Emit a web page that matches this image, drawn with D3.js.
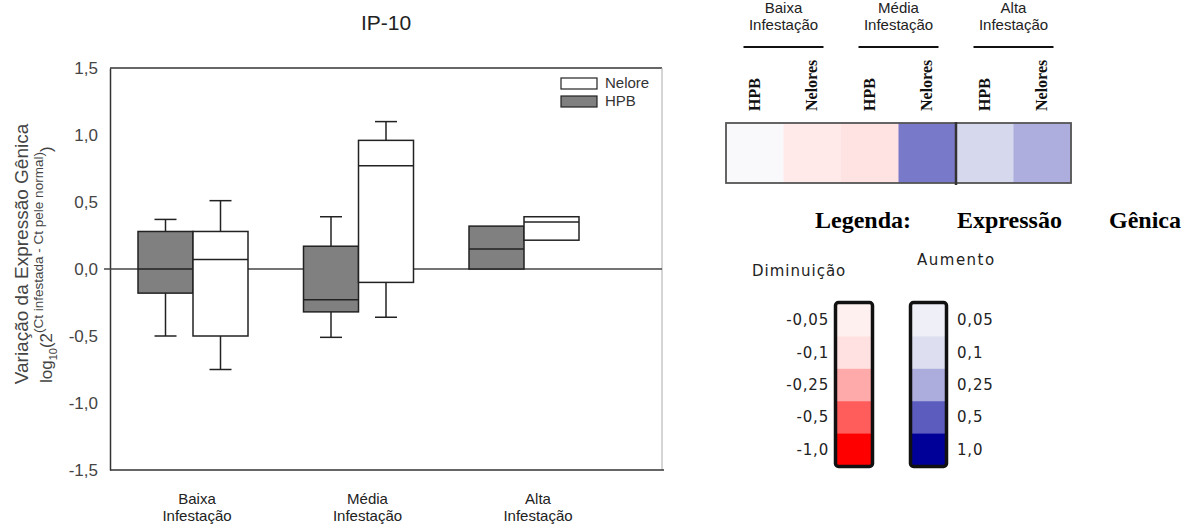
<!DOCTYPE html>
<html><head><meta charset="utf-8">
<script src="https://cdn.jsdelivr.net/npm/d3@7"></script>
<style>
html,body{margin:0;padding:0;background:#fff;}
svg{display:block;}
</style></head>
<body>
<svg id="c" width="1192" height="529"></svg>
<script>
// ---------- DATA ----------
const groupsLine1 = ["Baixa", "Média", "Alta"];
const groupsLine2 = ["Infestação", "Infestação", "Infestação"];
const seriesNames = ["Nelore", "HPB"];
// HPB box stats
const hpbMin    = [-0.50, -0.51, null];
const hpbQ1     = [-0.18, -0.32, 0.00];
const hpbMedian = [ 0.00, -0.23, 0.15];
const hpbQ3     = [ 0.28,  0.17, 0.32];
const hpbMax    = [ 0.37,  0.39, null];
// Nelore box stats
const nelMin    = [-0.75, -0.36, null];
const nelQ1     = [-0.50, -0.10, 0.215];
const nelMedian = [ 0.07,  0.77, 0.35];
const nelQ3     = [ 0.28,  0.96, 0.39];
const nelMax    = [ 0.51,  1.10, null];
const yTicks = [1.5, 1.0, 0.5, 0.0, -0.5, -1.0, -1.5];

// heatmap
const heatCols   = ["HPB", "Nelores", "HPB", "Nelores", "HPB", "Nelores"];
const heatGroup  = [0, 0, 1, 1, 2, 2];
const heatValues = [0.02, -0.075, -0.095, 0.41, 0.12, 0.245];
// colour legend
const redLabels  = ["-0,05", "-0,1", "-0,25", "-0,5", "-1,0"];
const redValues  = [-0.05, -0.1, -0.25, -0.5, -1.0];
const blueLabels = ["0,05", "0,1", "0,25", "0,5", "1,0"];
const blueValues = [0.05, 0.1, 0.25, 0.5, 1.0];

// ---------- SETUP ----------
const svg = d3.select("#c");
const sans = "'Liberation Sans', Arial, sans-serif";
const serif = "'Liberation Serif', 'Times New Roman', serif";

const plot = {left: 110, right: 662, top: 68, bottom: 470};
const y = d3.scaleLinear().domain([-1.5, 1.5]).range([plot.bottom, plot.top]);
const x = d3.scaleLinear().domain([0, 2]).range([193, 524]);
const xLab = d3.scaleLinear().domain([0, 2]).range([197, 538]);
const boxW = 55, capW = 22;

// title
svg.append("text").attr("x", (plot.left + plot.right) / 2).attr("y", 30)
  .attr("text-anchor", "middle").attr("font-family", sans).attr("font-size", 21)
  .attr("fill", "#222").text("IP-10");

// frame
svg.append("line").attr("x1", plot.left).attr("x2", plot.right).attr("y1", plot.top).attr("y2", plot.top)
  .attr("stroke", "#333").attr("stroke-width", 1.5);
svg.append("line").attr("x1", plot.right).attr("x2", plot.right).attr("y1", plot.top).attr("y2", plot.bottom)
  .attr("stroke", "#aaa").attr("stroke-width", 1);
svg.append("line").attr("x1", plot.left).attr("x2", plot.right + 2).attr("y1", plot.bottom).attr("y2", plot.bottom)
  .attr("stroke", "#333").attr("stroke-width", 1.5);

// y axis
const yAxis = d3.axisLeft(y).tickValues(yTicks).tickSize(0).tickPadding(12)
  .tickFormat(d => d3.format(".1f")(d).replace(".", ",").replace("−", "-"));
const gy = svg.append("g").attr("transform", `translate(${plot.left},0)`).call(yAxis);
gy.select(".domain").attr("stroke", "#333").attr("stroke-width", 1.5);
gy.selectAll("text").attr("font-family", sans).attr("font-size", 17).attr("fill", "#444");

// zero line
svg.append("line").attr("x1", plot.left - 6).attr("x2", plot.right).attr("y1", y(0)).attr("y2", y(0))
  .attr("stroke", "#444").attr("stroke-width", 1.5);

// y labels
svg.append("text").attr("transform", `translate(28,${(plot.top + plot.bottom) / 2 - 15}) rotate(-90)`)
  .attr("text-anchor", "middle").attr("font-family", sans).attr("font-size", 19).attr("fill", "#444")
  .text("Variação da Expressão Gênica");
const l2 = svg.append("text").attr("transform", `translate(52,383) rotate(-90)`)
  .attr("font-family", sans).attr("font-size", 17).attr("fill", "#444");
l2.append("tspan").text("log");
l2.append("tspan").attr("font-size", 11).attr("dy", 5).text("10");
l2.append("tspan").attr("dy", -5).text("(2");
l2.append("tspan").attr("font-size", 13.5).attr("dy", -9).text("(Ct infestada - Ct pele normal");
l2.append("tspan").attr("font-size", 13.5).text(")");
l2.append("tspan").attr("dy", 9).text(")");

// boxes
function drawBoxes(mins, q1, med, q3, maxs, offset, fill) {
  const idx = d3.range(q1.length);
  const g = svg.append("g");
  idx.forEach(i => {
    const cx = x(i) + offset * boxW / 2;
    const x0 = cx - boxW / 2;
    if (maxs[i] != null) {
      g.append("line").attr("x1", cx).attr("x2", cx).attr("y1", y(q3[i])).attr("y2", y(maxs[i])).attr("stroke", "#222").attr("stroke-width", 1.5);
      g.append("line").attr("x1", cx - capW / 2).attr("x2", cx + capW / 2).attr("y1", y(maxs[i])).attr("y2", y(maxs[i])).attr("stroke", "#222").attr("stroke-width", 1.5);
    }
    if (mins[i] != null) {
      g.append("line").attr("x1", cx).attr("x2", cx).attr("y1", y(q1[i])).attr("y2", y(mins[i])).attr("stroke", "#222").attr("stroke-width", 1.5);
      g.append("line").attr("x1", cx - capW / 2).attr("x2", cx + capW / 2).attr("y1", y(mins[i])).attr("y2", y(mins[i])).attr("stroke", "#222").attr("stroke-width", 1.5);
    }
    g.append("rect").attr("x", x0).attr("width", boxW).attr("y", y(q3[i])).attr("height", y(q1[i]) - y(q3[i]))
      .attr("fill", fill).attr("stroke", "#222").attr("stroke-width", 1.5);
    g.append("line").attr("x1", x0).attr("x2", x0 + boxW).attr("y1", y(med[i])).attr("y2", y(med[i]))
      .attr("stroke", "#222").attr("stroke-width", 1.5);
  });
}
drawBoxes(hpbMin, hpbQ1, hpbMedian, hpbQ3, hpbMax, -1, "#808080");
drawBoxes(nelMin, nelQ1, nelMedian, nelQ3, nelMax, 1, "#ffffff");

// x labels
groupsLine1.forEach((t, i) => {
  const tx = svg.append("text").attr("x", xLab(i)).attr("y", 504).attr("text-anchor", "middle")
    .attr("font-family", sans).attr("font-size", 15).attr("fill", "#222");
  tx.append("tspan").attr("x", xLab(i)).text(t);
  tx.append("tspan").attr("x", xLab(i)).attr("dy", 17).text(groupsLine2[i]);
});

// legend
const legFills = {"Nelore": "#ffffff", "HPB": "#808080"};
seriesNames.forEach((s, i) => {
  svg.append("rect").attr("x", 561).attr("y", 78 + i * 18).attr("width", 36).attr("height", 11)
    .attr("fill", legFills[s]).attr("stroke", "#222").attr("stroke-width", 1.2);
  svg.append("text").attr("x", 605).attr("y", 88 + i * 18).attr("font-family", sans).attr("font-size", 15)
    .attr("fill", "#333").text(s);
});

// ---------- HEATMAP ----------
const colorDomain = [-1, -0.5, -0.25, -0.1, -0.05, 0, 0.05, 0.1, 0.25, 0.5, 1];
const colorRange = ["#ff0000", "#ff5c5c", "#ffaaaa", "#ffe1e1", "#fff0f0", "#ffffff",
                    "#efeff8", "#dddff1", "#acacdd", "#5c5cbe", "#000099"];
const color = d3.scaleLinear().domain(colorDomain).range(colorRange).interpolate(d3.interpolateRgb);

const hx = d3.scaleBand().domain(d3.range(heatCols.length)).range([726, 1071]);
const hy0 = 123, hh = 60;
svg.append("g").selectAll("rect").data(heatValues).join("rect")
  .attr("x", (d, i) => hx(i)).attr("width", hx.bandwidth() + 0.5)
  .attr("y", hy0).attr("height", hh).attr("fill", d => color(d));
svg.append("rect").attr("x", 726).attr("y", hy0).attr("width", 345).attr("height", hh)
  .attr("fill", "none").attr("stroke", "#555").attr("stroke-width", 1.8);
svg.append("line").attr("x1", hx(4)).attr("x2", hx(4)).attr("y1", hy0 - 1).attr("y2", hy0 + hh + 2)
  .attr("stroke", "#333").attr("stroke-width", 2.5);

// column labels
heatCols.forEach((c, i) => {
  const cx = hx(i) + hx.bandwidth() / 2 + 5;
  svg.append("text").attr("transform", `translate(${cx},111) rotate(-90)`)
    .attr("font-family", serif).attr("font-weight", "bold").attr("font-size", 16).attr("fill", "#111").text(c);
});
// group lines & labels
d3.range(3).forEach(g => {
  const cols = d3.range(heatCols.length).filter(i => heatGroup[i] === g);
  const gx = (hx(cols[0]) + hx(cols[cols.length - 1]) + hx.bandwidth()) / 2;
  svg.append("line").attr("x1", gx - 40).attr("x2", gx + 40).attr("y1", 47).attr("y2", 47)
    .attr("stroke", "#111").attr("stroke-width", 2);
  const t = svg.append("text").attr("text-anchor", "middle").attr("font-family", sans)
    .attr("font-size", 15).attr("fill", "#222");
  t.append("tspan").attr("x", gx).attr("y", 13).text(groupsLine1[g]);
  t.append("tspan").attr("x", gx).attr("y", 30).text(groupsLine2[g]);
});

// ---------- COLOUR LEGEND ----------
svg.append("text").attr("x", 815).attr("y", 228).attr("font-family", serif).attr("font-weight", "bold")
  .attr("font-size", 24).attr("fill", "#000").text("Legenda:");
svg.append("text").attr("x", 957).attr("y", 228).attr("font-family", serif).attr("font-weight", "bold")
  .attr("font-size", 24).attr("fill", "#000").text("Expressão");
svg.append("text").attr("x", 1109).attr("y", 228).attr("font-family", serif).attr("font-weight", "bold")
  .attr("font-size", 24).attr("fill", "#000").text("Gênica");

const lfont = "'DejaVu Sans', Verdana, sans-serif";
svg.append("text").attr("x", 752).attr("y", 276).attr("font-family", lfont).attr("font-size", 15)
  .attr("letter-spacing", 1).attr("fill", "#222").text("Diminuição");
svg.append("text").attr("x", 917).attr("y", 265).attr("font-family", lfont).attr("font-size", 15)
  .attr("letter-spacing", 1.5).attr("fill", "#222").text("Aumento");

const ly = d3.scaleBand().domain(d3.range(5)).range([304, 466]);
function colorBar(x0, w, values, labels, side) {
  const g = svg.append("g");
  g.selectAll("rect.c").data(values).join("rect").attr("class", "c")
    .attr("x", x0).attr("width", w).attr("y", (d, i) => ly(i)).attr("height", ly.bandwidth() + 0.5)
    .attr("fill", d => color(d));
  g.append("rect").attr("x", x0 - 1.5).attr("y", 302.5).attr("width", w + 3).attr("height", 164)
    .attr("rx", 3).attr("fill", "none").attr("stroke", "#111").attr("stroke-width", 3.5);
  g.selectAll("text").data(labels).join("text")
    .attr("x", side < 0 ? x0 - 8 : x0 + w + 12)
    .attr("y", (d, i) => ly(i) + ly.bandwidth() / 2 + 5)
    .attr("text-anchor", side < 0 ? "end" : "start")
    .attr("font-family", lfont).attr("font-size", 15).attr("letter-spacing", 0.8).attr("fill", "#222")
    .text(d => d);
}
colorBar(837, 34, redValues, redLabels, -1);
colorBar(912, 33, blueValues, blueLabels, 1);
</script>
</body></html>
